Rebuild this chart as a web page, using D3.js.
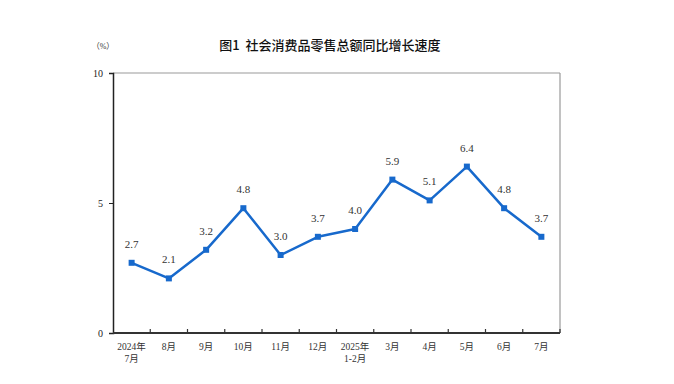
<!DOCTYPE html>
<html><head><meta charset="utf-8">
<script src="https://cdn.jsdelivr.net/npm/d3@7"></script>
<style>body{margin:0;background:#fff;} svg{display:block;}</style>
</head><body>
<svg id="c" width="674" height="384"></svg>
<script>
const categories = [["2024年","7月"],["8月"],["9月"],["10月"],["11月"],["12月"],["2025年","1-2月"],["3月"],["4月"],["5月"],["6月"],["7月"]];
const values = [2.7, 2.1, 3.2, 4.8, 3.0, 3.7, 4.0, 5.9, 5.1, 6.4, 4.8, 3.7];
const yTicks = [0, 5, 10];
const title = "图1\u00a0\u00a0社会消费品零售总额同比增长速度";
const unit = "（%）";

const svg = d3.select("#c");
const L = 113, R = 560, T = 73, B = 333;
const x = d3.scaleBand().domain(d3.range(categories.length)).range([L, R]).padding(0);
const y = d3.scaleLinear().domain([0, 10]).range([B, T]);
const serif = "'Liberation Serif','Noto Sans CJK SC',serif";

svg.append("text").attr("x", 330).attr("y", 50).attr("text-anchor", "middle")
  .attr("font-family", "'Noto Sans CJK SC',sans-serif").attr("font-size", 13).attr("font-weight", 500)
  .attr("fill", "#111").text(title);
svg.append("text").attr("x", 103).attr("y", 49).attr("text-anchor", "middle")
  .attr("font-family", serif).attr("font-size", 8).attr("fill", "#333").text(unit);

// frame
svg.append("line").attr("x1", L).attr("x2", R).attr("y1", T).attr("y2", T).attr("stroke", "#999").attr("stroke-width", 1.2);
svg.append("line").attr("x1", R).attr("x2", R).attr("y1", T).attr("y2", B).attr("stroke", "#999").attr("stroke-width", 1.2);

// y axis
const yAxis = svg.append("g").attr("transform", `translate(${L},0)`)
  .call(d3.axisLeft(y).tickValues(yTicks).tickSize(4).tickPadding(6).tickFormat(d3.format("d")));
yAxis.select(".domain").attr("stroke", "#222").attr("stroke-width", 1.5);
yAxis.selectAll(".tick line").attr("stroke", "#222");
yAxis.selectAll("text").attr("font-family", serif).attr("font-size", 10).attr("fill", "#222");

// x axis ticks at boundaries
const xg = svg.append("g");
xg.append("line").attr("x1", L).attr("x2", R).attr("y1", B).attr("y2", B).attr("stroke", "#333").attr("stroke-width", 1.8);
const bounds = d3.range(1, categories.length + 1).map(i => x(i - 1) + x.bandwidth());
xg.selectAll("line.t").data(bounds).join("line").attr("class", "t")
  .attr("x1", d => d).attr("x2", d => d).attr("y1", B).attr("y2", B - 4).attr("stroke", "#333").attr("stroke-width", 1.2);
const lab = xg.selectAll("text.c").data(categories).join("text").attr("class", "c")
  .attr("text-anchor", "middle").attr("font-family", serif).attr("font-size", 9.5).attr("fill", "#333");
lab.each(function(d, i) {
  const t = d3.select(this);
  d.forEach((s, k) => t.append("tspan").attr("x", x(i) + x.bandwidth() / 2).attr("y", 350 + k * 12).text(s));
});

// line
const cx = i => x(i) + x.bandwidth() / 2;
svg.append("path").datum(values)
  .attr("d", d3.line().x((d, i) => cx(i)).y(d => y(d)))
  .attr("fill", "none").attr("stroke", "#1769cc").attr("stroke-width", 2.5).attr("stroke-linejoin", "round");
svg.selectAll("rect.m").data(values).join("rect").attr("class", "m")
  .attr("x", (d, i) => cx(i) - 3).attr("y", d => y(d) - 3).attr("width", 6).attr("height", 6).attr("fill", "#1769cc");
svg.selectAll("text.v").data(values).join("text").attr("class", "v")
  .attr("x", (d, i) => cx(i)).attr("y", d => y(d) - 15).attr("text-anchor", "middle")
  .attr("font-family", serif).attr("font-size", 11).attr("fill", "#333").text(d => d.toFixed(1));
</script>
</body></html>
